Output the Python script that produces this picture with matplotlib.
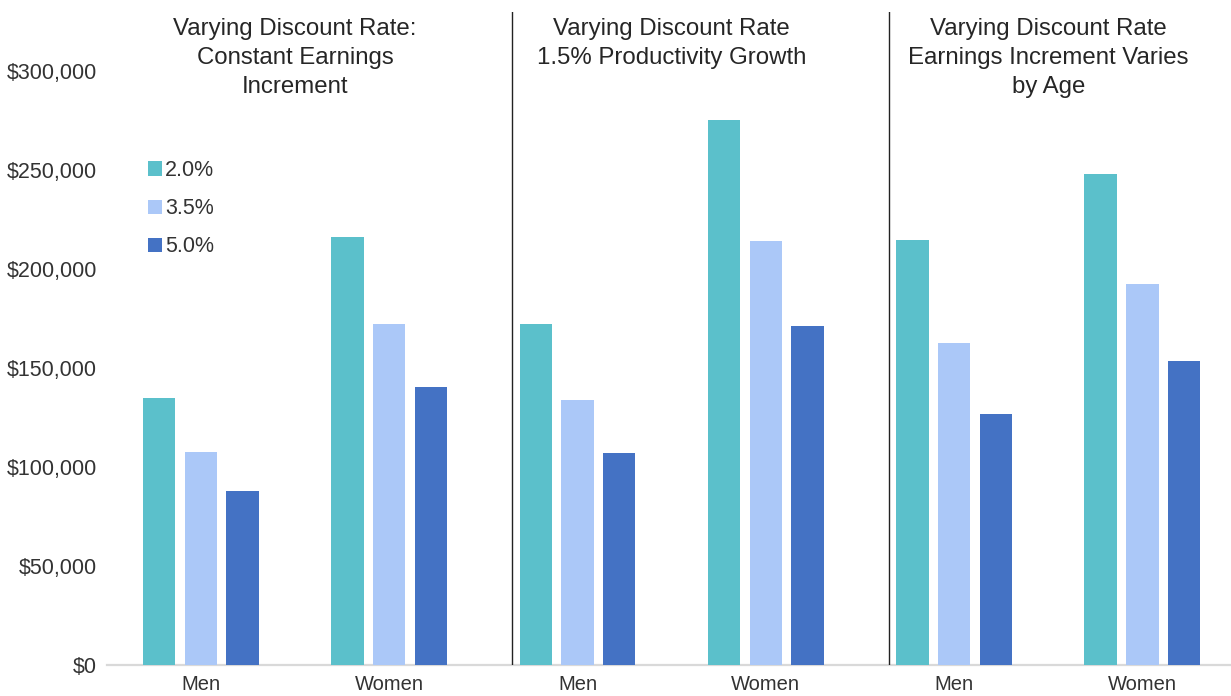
import matplotlib
matplotlib.use("Agg")
import matplotlib.pyplot as plt
import matplotlib.transforms as mtransforms
import numpy as np

# Lifetime value by sex, under three discount-rate scenarios
categories = ["Men", "Women", "Men", "Women", "Men", "Women"]
panel_titles = [
    "Varying Discount Rate:\nConstant Earnings\nIncrement",
    "Varying Discount Rate\n1.5% Productivity Growth",
    "Varying Discount Rate\nEarnings Increment Varies\nby Age",
]
rate_labels = ["2.0%", "3.5%", "5.0%"]
values_2_0 = [135000, 216000, 172000, 275000, 214500, 248000]
values_3_5 = [107500, 172000, 134000, 214000, 162500, 192500]
values_5_0 = [88000, 140500, 107000, 171000, 126500, 153500]
y_ticks = [0, 50000, 100000, 150000, 200000, 250000, 300000]

colors = ["#5bc0cb", "#abc8f8", "#4472c4"]
text_color = "#333333"

plt.rcParams["font.family"] = ["Liberation Sans", "DejaVu Sans"]

W, H = 1231, 696
fig = plt.figure(figsize=(W / 100, H / 100), dpi=100)
fig.patch.set_facecolor("white")

# Plot area in pixels: left 106.8, right 1236.5, bottom 665, top 12
left_px, right_px, bottom_px, top_px = 106.8, 1236.5, 665.0, 12.0
ax = fig.add_axes([left_px / W, 1 - bottom_px / H,
                   (right_px - left_px) / W, (bottom_px - top_px) / H])

series = [values_2_0, values_3_5, values_5_0]
x = np.arange(len(categories))
bar_w = 0.1726
offset = 0.2215
for i, (vals, col, lab) in enumerate(zip(series, colors, rate_labels)):
    ax.bar(x + (i - 1) * offset, vals, width=bar_w, color=col, label=lab,
           edgecolor="none", zorder=2)

ax.set_xlim(-0.5, 5.5)
# 300,000 sits 594.3 px above the baseline; the plot area is 653 px tall
ax.set_ylim(0, 300000 * (bottom_px - top_px) / 594.3)

ax.set_yticks(y_ticks)
ax.set_yticklabels([f"${v:,.0f}" for v in y_ticks])
ax.set_xticks(x)
ax.set_xticklabels(categories)
ax.tick_params(axis="y", length=0, pad=7, labelsize=15.5, labelcolor=text_color)
ax.tick_params(axis="x", length=0, pad=7.5, labelsize=14.5, labelcolor=text_color)

for side in ["left", "right", "top"]:
    ax.spines[side].set_visible(False)
ax.spines["bottom"].set_color("#d9d9d9")
ax.spines["bottom"].set_linewidth(1.6)
ax.spines["bottom"].set_zorder(1)

# Panel dividers
for xd in [1.652, 3.655]:
    ax.axvline(xd, color="#222222", linewidth=1.0, zorder=3)

# Panel titles
trans = mtransforms.blended_transform_factory(ax.transData, fig.transFigure)
for cx, t in zip([0.5, 2.5, 4.5], panel_titles):
    ax.text(cx, 1 - 18 / H, t, transform=trans, ha="center", va="top",
            fontsize=17.3, color="#262626", linespacing=1.4)

leg = ax.legend(loc="upper left",
                bbox_to_anchor=(148 / W, 1 - 160 / H),
                bbox_transform=fig.transFigure,
                frameon=False, fontsize=15.5, handlelength=0.64,
                handleheight=0.64, handletextpad=0.15, labelspacing=0.8,
                borderpad=0, borderaxespad=0)
for t in leg.get_texts():
    t.set_color(text_color)

fig.savefig("out.png", dpi=100, facecolor="white")
